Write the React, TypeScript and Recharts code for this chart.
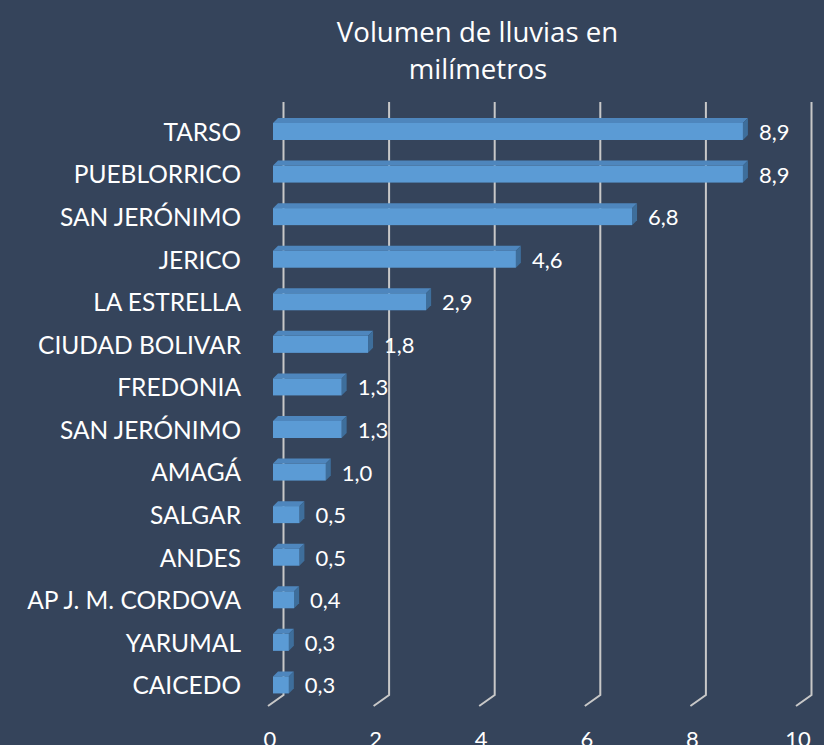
import React from "react";
import { BarChart, Bar, XAxis, YAxis, CartesianGrid, LabelList } from "recharts";

const categories = [
  "TARSO",
  "PUEBLORRICO",
  "SAN JERÓNIMO",
  "JERICO",
  "LA ESTRELLA",
  "CIUDAD BOLIVAR",
  "FREDONIA",
  "SAN JERÓNIMO ",
  "AMAGÁ",
  "SALGAR",
  "ANDES",
  "AP J. M. CORDOVA",
  "YARUMAL",
  "CAICEDO",
];
const values = [8.9, 8.9, 6.8, 4.6, 2.9, 1.8, 1.3, 1.3, 1.0, 0.5, 0.5, 0.4, 0.3, 0.3];
const xTicks = [0, 2, 4, 6, 8, 10];
const titleLines = ["Volumen de lluvias en", "milímetros"];

const data = categories.map((c, i) => ({ name: c, value: values[i] }));

const BG = "#35445B";
const FONT = "Lato, 'Open Sans', sans-serif";
const TITLE_FONT = "'Open Sans', Lato, sans-serif";
const D = 5;

const Bar3D = (props: any) => {
  const { x, y, width, height } = props;
  if (width == null) return null;
  const w = Math.max(width, 0);
  return (
    <g>
      <polygon
        points={`${x},${y} ${x + D},${y - D} ${x + w + D},${y - D} ${x + w},${y}`}
        fill="#4E86BD"
      />
      <polygon
        points={`${x + w},${y} ${x + w + D},${y - D} ${x + w + D},${y + height - D} ${x + w},${y + height}`}
        fill="#3E6E9B"
      />
      <rect x={x} y={y} width={w} height={height} fill="#5B9BD5" />
    </g>
  );
};

const gridLine = (p: any) => {
  const gx = p.x1 + 10.5;
  const top = p.y1 - 8;
  const bot = p.y2 - 11;
  return (
    <path
      key={p.key ?? `g-${p.index}-${p.x1}`}
      d={`M${gx},${top} L${gx},${bot} L${gx - 15.5},${bot + 11}`}
      stroke="#C8C8C8"
      strokeWidth={2}
      fill="none"
    />
  );
};

const XTick = (props: any) => {
  const { x, payload } = props;
  return (
    <text x={x - 3} y={738} textAnchor="middle" dominantBaseline="central" fill="#FFFFFF" fontSize={22} fontFamily={FONT}>
      {payload.value}
    </text>
  );
};

const YTick = (props: any) => {
  const { y, payload } = props;
  return (
    <text x={241} y={y} textAnchor="end" dominantBaseline="central" fill="#FFFFFF" fontSize={24.5} fontFamily={FONT}>
      {String(payload.value).trim()}
    </text>
  );
};

const ValueLabel = (props: any) => {
  const { x, y, width, height, value } = props;
  return (
    <text
      x={x + width + 16}
      y={y + height / 2}
      dominantBaseline="central"
      fill="#FFFFFF"
      fontSize={22}
      fontFamily={FONT}
    >
      {Number(value).toFixed(1).replace(".", ",")}
    </text>
  );
};

export default function App() {
  return (
    <div style={{ position: "absolute", left: 0, top: 0, width: 824, height: 745, background: BG, overflow: "hidden" }}>
      <svg width={824} height={100} style={{ position: "absolute", left: 0, top: 0 }}>
        <text x={477.5} y={41.7} textAnchor="middle" fill="#FFFFFF" fontSize={27.6} fontFamily={TITLE_FONT}>
          {titleLines[0]}
        </text>
        <text x={478} y={79} textAnchor="middle" fill="#FFFFFF" fontSize={27.6} fontFamily={TITLE_FONT}>
          {titleLines[1]}
        </text>
      </svg>
      <BarChart
        width={824}
        height={745}
        data={data}
        layout="vertical"
        margin={{ top: 110, right: 23, bottom: 0, left: 0 }}
        barCategoryGap={0}
      >
        <CartesianGrid horizontal={false} vertical={gridLine} stroke="#C8C8C8" />
        <XAxis
          type="number"
          domain={[0, 10]}
          ticks={xTicks}
          axisLine={false}
          tickLine={false}
          height={39}
          tick={<XTick />}
          interval={0}
        />
        <YAxis
          type="category"
          dataKey="name"
          width={273}
          axisLine={false}
          tickLine={false}
          tick={<YTick />}
          interval={0}
        />
        <Bar dataKey="value" barSize={17} shape={<Bar3D />} isAnimationActive={false}>
          <LabelList dataKey="value" content={<ValueLabel />} />
        </Bar>
      </BarChart>
    </div>
  );
}
